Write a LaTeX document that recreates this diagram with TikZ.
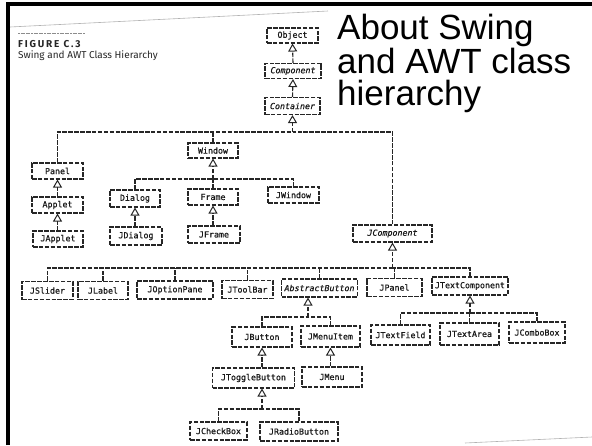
\documentclass[tikz,border=0pt]{standalone}
\usepackage{fontspec}
\setmainfont{Liberation Sans}
\newfontfamily\titlefont{Liberation Sans}
\newfontfamily\classfont[FakeBold=0.6]{DejaVu Sans Mono}
\newfontfamily\capfont{Fira Sans}
\usetikzlibrary{arrows.meta}

\begin{document}
\begin{tikzpicture}[x=1pt,y=-1pt,
  ink/.style={draw=black!85, line width=1.1pt, dash pattern=on 4.5pt off 1.4pt},
  cls/.style={ink, fill=white, inner sep=0pt, text=black!90,
    font=\classfont\fontsize{8.3}{10}\selectfont},
  abs/.style={cls, font=\classfont\itshape\fontsize{8.3}{10}\selectfont},
  link/.style={ink},
  gen/.style={ink, -{Triangle[open, length=8pt, width=9pt, line width=1pt]}},
  frame/.style={draw=black, line width=4pt},
  edge/.style={draw=black!30, line width=0.6pt},
]
\useasboundingbox (0,0) rectangle (592,445);

% scanned page edges and black frame
\draw[edge] (10,27) -- (328,11);
\draw[edge] (465,443) -- (592,437);
\draw[frame] (7.8,445) -- (7.8,3.5) -- (592,3.5);

% figure caption
\draw[black!45, line width=1pt, dash pattern=on 2pt off 0.6pt] (18,33.5) -- (85,33.5);
\node[anchor=base west, inner sep=0pt, text=black!85,
  font=\capfont\bfseries\fontsize{10}{12}\selectfont\addfontfeatures{LetterSpace=18}]
  (figno) at (18,47) {FIGURE C.3};
\node[anchor=base west, inner sep=0pt, text=black!85,
  font=\capfont\fontsize{10}{12}\selectfont]
  (figcap) at (18,58) {Swing and AWT Class Hierarchy};

% slide title
\node[anchor=north west, inner sep=0pt, align=left,
  font=\titlefont\fontsize{35}{32}\selectfont] (title) at (337,14)
  {About Swing\\and AWT class\\hierarchy};

% classes
\node[cls, minimum width=51pt, minimum height=15pt] (obj) at (292.5,35.5) {Object};
\node[abs, minimum width=56pt, minimum height=15pt] (comp) at (293,71) {Component};
\node[abs, minimum width=55pt, minimum height=17pt] (cont) at (292.5,106) {Container};

\node[cls, minimum width=51pt, minimum height=16pt] (panel) at (57.5,171) {Panel};
\node[cls, minimum width=51pt, minimum height=16pt] (applet) at (57.5,205) {Applet};
\node[cls, minimum width=50pt, minimum height=16pt] (japplet) at (58,239) {JApplet};

\node[cls, minimum width=50pt, minimum height=15pt] (window) at (213,150.5) {Window};
\node[cls, minimum width=50pt, minimum height=17pt] (dialog) at (135,198.5) {Dialog};
\node[cls, minimum width=50pt, minimum height=16pt] (frm) at (213,197) {Frame};
\node[cls, minimum width=51pt, minimum height=16pt] (jwindow) at (293.5,195) {JWindow};
\node[cls, minimum width=52pt, minimum height=18pt] (jdialog) at (136,236) {JDialog};
\node[cls, minimum width=52pt, minimum height=17pt] (jframe) at (214,234.5) {JFrame};

\node[abs, minimum width=79pt, minimum height=17pt] (jcomp) at (392.5,233.5) {JComponent};

\node[cls, minimum width=51pt, minimum height=18pt] (jslider) at (47.5,290.5) {JSlider};
\node[cls, minimum width=50pt, minimum height=18pt] (jlabel) at (103,290.5) {JLabel};
\node[cls, minimum width=76pt, minimum height=18pt] (joption) at (175,290) {JOptionPane};
\node[cls, minimum width=51pt, minimum height=18pt] (jtoolbar) at (247.5,289.5) {JToolBar};
\node[abs, minimum width=76pt, minimum height=18pt] (absbtn) at (319.5,288) {AbstractButton};
\node[cls, minimum width=55pt, minimum height=18pt] (jpanel) at (394.5,287.5) {JPanel};
\node[cls, minimum width=76pt, minimum height=18pt] (jtextcomp) at (470,286) {JTextComponent};

\node[cls, minimum width=60pt, minimum height=20pt] (jbutton) at (262,337) {JButton};
\node[cls, minimum width=59pt, minimum height=21pt] (jmenuitem) at (330.5,336.5) {JMenuItem};
\node[cls, minimum width=82pt, minimum height=20pt] (jtoggle) at (253.5,378) {JToggleButton};
\node[cls, minimum width=60pt, minimum height=20pt] (jmenu) at (332,377) {JMenu};
\node[cls, minimum width=57pt, minimum height=18pt] (jcheck) at (218.5,431) {JCheckBox};
\node[cls, minimum width=78pt, minimum height=19pt] (jradio) at (299,431.5) {JRadioButton};

\node[cls, minimum width=59pt, minimum height=20pt] (jtextfield) at (400.5,335) {JTextField};
\node[cls, minimum width=59pt, minimum height=22pt] (jtextarea) at (469.5,334) {JTextArea};
\node[cls, minimum width=56pt, minimum height=21pt] (jcombo) at (537,332.5) {JComboBox};

% bar junctions
\coordinate (b1) at (292.5,132);
\coordinate (b2) at (213,179);
\coordinate (b3) at (392.5,268);
\coordinate (b4) at (308,317);
\coordinate (b5) at (262,409);
\coordinate (b6) at (470,313);

% inheritance
\draw[gen] (comp.north) -- (obj.south);
\draw[gen] (cont.north) -- (comp.south);
\draw[gen] (b1) -- (cont.south);
\draw[link] (panel.north) |- (b1);
\draw[link] (jcomp.north) |- (b1);
\draw[link] (window.north) -- (window.north |- b1);

\draw[gen] (applet.north) -- (panel.south);
\draw[gen] (applet.south |- japplet.north) -- (applet.south);

\draw[gen] (b2) -- (window.south);
\draw[link] (dialog.north) |- (b2);
\draw[link] (jwindow.north) |- (b2);
\draw[link] (frm.north) -- (frm.north |- b2);
\draw[gen] (dialog.south |- jdialog.north) -- (dialog.south);
\draw[gen] (frm.south |- jframe.north) -- (frm.south);

\draw[gen] (b3) -- (jcomp.south);
\draw[link] (jslider.north) |- (b3);
\draw[link] (jtextcomp.north) |- (b3);
\draw[link] (jlabel.north) -- (jlabel.north |- b3);
\draw[link] (joption.north) -- (joption.north |- b3);
\draw[link] (jtoolbar.north) -- (jtoolbar.north |- b3);
\draw[link] (absbtn.north) -- (absbtn.north |- b3);
\draw[link] (jpanel.north) -- (jpanel.north |- b3);

\draw[gen] (b4) -- (b4 |- absbtn.south);
\draw[link] (jbutton.north) |- (b4);
\draw[link] (jmenuitem.north) |- (b4);
\draw[gen] (jbutton.south |- jtoggle.north) -- (jbutton.south);
\draw[gen] (jmenuitem.south |- jmenu.north) -- (jmenuitem.south);

\draw[gen] (b5) -- (b5 |- jtoggle.south);
\draw[link] (jcheck.north) |- (b5);
\draw[link] (jradio.north) |- (b5);

\draw[gen] (b6) -- (jtextcomp.south);
\draw[link] (jtextfield.north) |- (b6);
\draw[link] (jcombo.north) |- (b6);
\draw[link] (jtextarea.north) -- (jtextarea.north |- b6);
\end{tikzpicture}
\end{document}
